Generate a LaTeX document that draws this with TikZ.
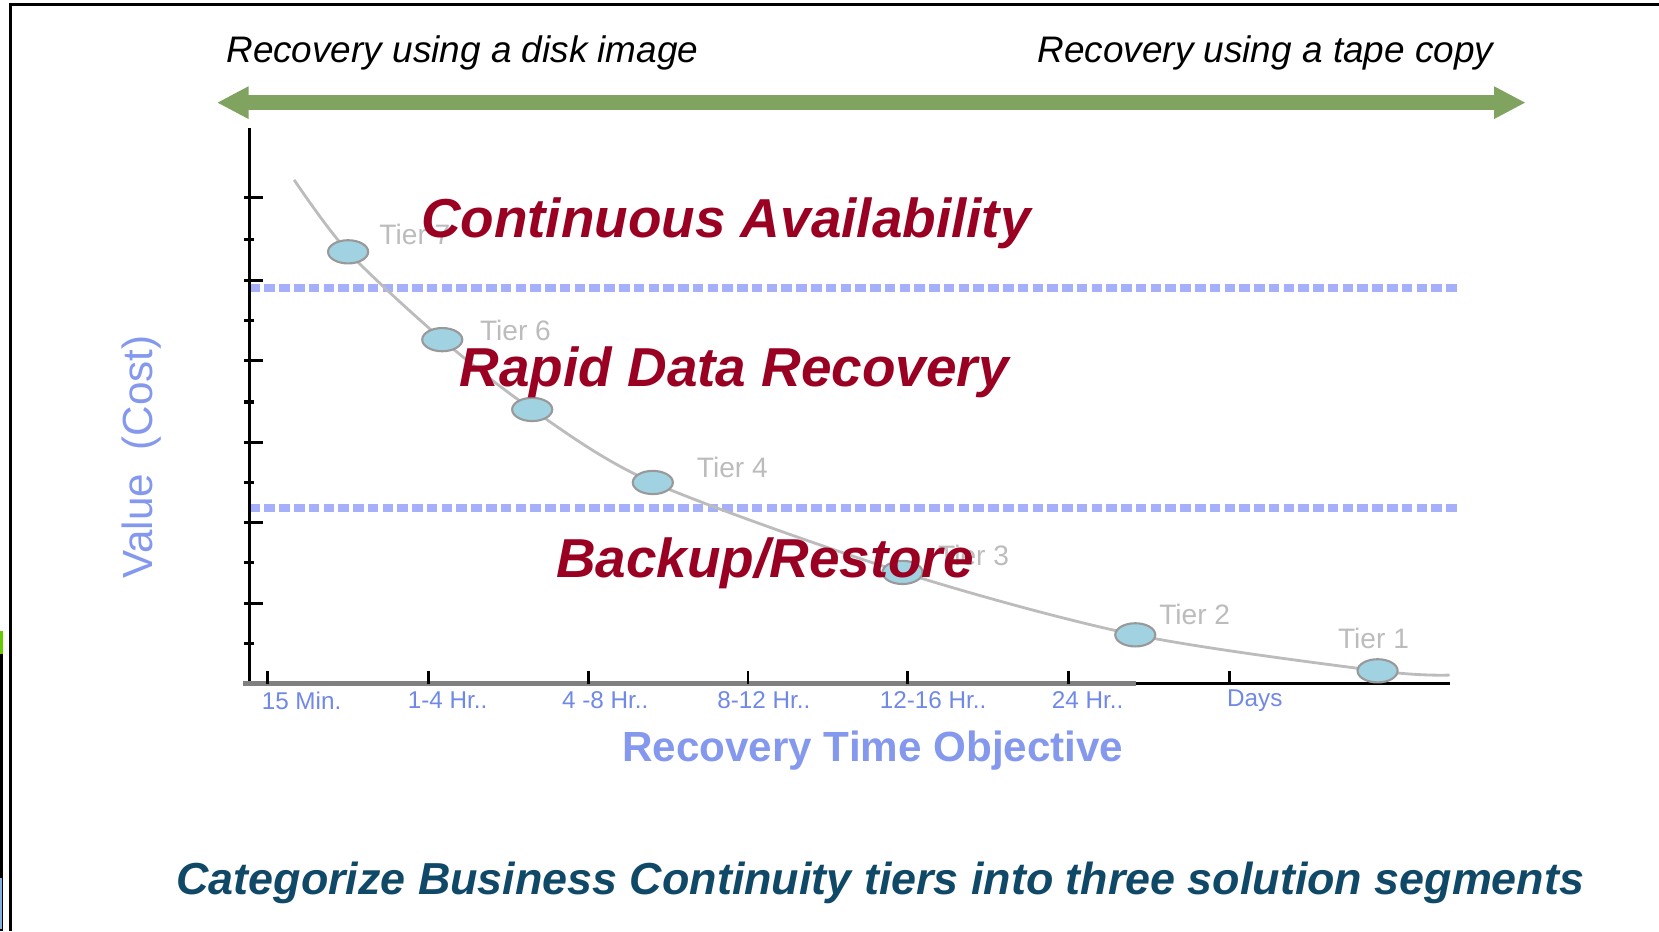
\documentclass[tikz,border=0pt]{standalone}
\usepackage{fontspec}
\setmainfont{Liberation Sans}
\usetikzlibrary{arrows.meta,shapes.geometric}
\definecolor{arrowgreen}{RGB}{128,163,95}
\definecolor{segred}{RGB}{153,0,34}
\definecolor{axisblue}{RGB}{132,152,238}
\definecolor{tickblue}{RGB}{112,136,230}
\definecolor{dotblue}{RGB}{165,175,250}
\definecolor{tierfill}{RGB}{160,210,226}
\definecolor{tiergray}{RGB}{188,188,188}
\definecolor{capblue}{RGB}{16,72,104}
\begin{document}
\begin{tikzpicture}[x=0.01058cm,y=0.01058cm,
    toplab/.style={inner sep=0pt,font=\fontsize{10.5}{12}\selectfont\itshape},
    ticklab/.style={inner sep=0pt,text=tickblue,font=\fontsize{6.9}{8}\selectfont},
    tierdot/.style={ellipse,draw=gray!80,line width=0.6pt,fill=tierfill,
        minimum width=11.4pt,minimum height=6.6pt,inner sep=0pt},
    tierlab/.style={inner sep=0pt,anchor=west,text=tiergray,font=\fontsize{8}{9}\selectfont},
    segment/.style={inner sep=0pt,text=segred,font=\fontsize{15.6}{18}\selectfont\bfseries\itshape},
    dotline/.style={dotblue,line width=2.4pt,dash pattern=on 3pt off 1.2pt}]
    \useasboundingbox (0,0) rectangle (1568,-880);

    % frame and the strip on the left edge
    \draw[line width=0.8pt] (10,-880) -- (10,-4) -- (1568,-4);
    \fill[green!50!yellow!80!black] (0,-596) rectangle (3,-618);
    \fill[black] (0,-618) rectangle (3,-880);
    \fill[cyan!60!blue!50] (0,-830) rectangle (2,-878);

    % top arrow
    \coordinate (arrL) at (205,-97);
    \coordinate (arrR) at (1442,-97);
    \draw[arrowgreen,line width=4.2pt,
        {Triangle[length=9pt,width=8.6pt]}-{Triangle[length=9pt,width=8.6pt]}] (arrL) -- (arrR);
    \node[toplab] (disk) at (437,-50) {Recovery using a disk image};
    \node[toplab] (tape) at (1196,-50) {Recovery using a tape copy};

    % segment borders
    \coordinate (hiL) at (236,-272);
    \coordinate (hiR) at (1380,-272);
    \coordinate (loL) at (236,-480);
    \coordinate (loR) at (1380,-480);
    \draw[dotline] (hiL) -- (hiR);
    \draw[dotline] (loL) -- (loR);

    % axes
    \coordinate (origin) at (236,-646);
    \coordinate (ytop) at (236,-121);
    \coordinate (xstart) at (230,-646);
    \coordinate (xmid) at (1074,-646);
    \coordinate (xend) at (1370,-646);
    \draw[line width=0.9pt] (origin) -- (ytop);
    \foreach \y/\len in {187/18,226/9,265/18,303/9,341/18,380/9,418/18,456/9,494/18,532/9,570/18,608/9}
        \draw[line width=0.9pt] (231,-\y) -- ++(\len,0);
    \draw[gray,line width=1.5pt] (xstart) -- (xmid);
    \draw[line width=0.9pt] (xmid) -- (xend);
    \foreach \x in {253,405,556,707,858,1010,1162}
        \draw[line width=0.8pt] (\x,-646) -- (\x,-634);
    \foreach \x/\t [count=\i] in {285/15 Min.,423/1-4 Hr..,572/4 -8 Hr..,722/8-12 Hr..,
            882/12-16 Hr..,1028/24 Hr..,1186/Days}
        \node[ticklab] (rto\i) at (\x,-662) {\t};
    \node[inner sep=0pt,text=axisblue,font=\fontsize{12}{14}\selectfont\bfseries]
        (rtotitle) at (825,-709) {Recovery Time Objective};
    \node[inner sep=0pt,text=axisblue,font=\fontsize{12}{14}\selectfont,rotate=90]
        (cost) at (134,-432) {Value\ \ (Cost)};

    % cost curve through the tiers
    \coordinate (cstart) at (278,-170);
    \coordinate (p7) at (329,-238);
    \coordinate (p6) at (418,-321);
    \coordinate (p5) at (503,-387);
    \coordinate (p4) at (617,-456);
    \coordinate (p3) at (853,-541);
    \coordinate (p2) at (1073,-600);
    \coordinate (p1) at (1302,-634);
    \coordinate (cend) at (1370,-638);
    \draw[tiergray,line width=0.8pt] plot[smooth] coordinates
        {(cstart) (p7) (p6) (p5) (p4) (p3) (p2) (p1) (cend)};
    \foreach \i in {7,6,5,4,3,2,1}
        \node[tierdot] (t\i) at (p\i) {};
    \node[tierlab] (lab7) at (358,-222) {Tier 7};
    \node[tierlab] (lab6) at (453,-312) {Tier 6};
    \node[tierlab] (lab4) at (658,-442) {Tier 4};
    \node[tierlab] (lab3) at (886,-525) {Tier 3};
    \node[tierlab] (lab2) at (1095,-581) {Tier 2};
    \node[tierlab] (lab1) at (1264,-603) {Tier 1};

    % the three solution segments
    \node[segment] (avail) at (686,-211) {Continuous Availability};
    \node[segment] (rapid) at (694,-352) {Rapid Data Recovery};
    \node[segment] (backup) at (723,-532) {Backup/Restore};

    \node[inner sep=0pt,text=capblue,font=\fontsize{12.75}{15}\selectfont\bfseries\itshape]
        (caption) at (832,-834) {Categorize Business Continuity tiers into three solution segments};
\end{tikzpicture}
\end{document}
